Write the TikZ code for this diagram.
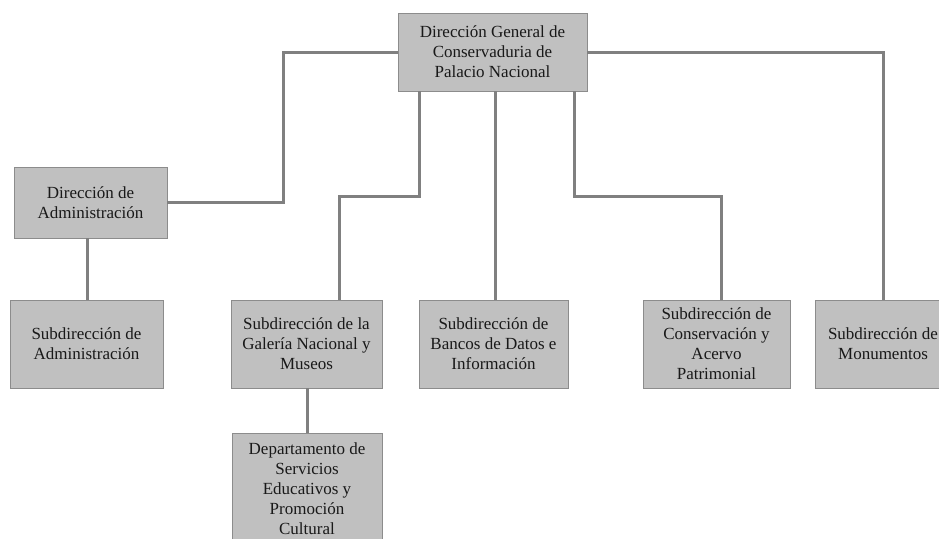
\documentclass[tikz,border=0pt]{standalone}
\usepackage{fontspec}
\setmainfont{Liberation Serif}
\usetikzlibrary{shadows}
\definecolor{boxfill}{RGB}{192,192,192}
\definecolor{boxdraw}{RGB}{140,140,140}
\definecolor{linecol}{RGB}{128,128,128}
\definecolor{txt}{RGB}{25,25,25}
\tikzset{
  orgbox/.style={rectangle, fill=boxfill, draw=boxdraw, line width=0.8pt,
    align=center, inner sep=2pt, text=txt,
    font=\fontsize{17}{20}\selectfont,
    drop shadow={shadow xshift=1pt, shadow yshift=-1.2pt, opacity=0.35}},
  conn/.style={draw=linecol, line width=3pt}
}
\begin{document}
\begin{tikzpicture}[x=1pt,y=-1pt]
\useasboundingbox (0,0) rectangle (939,538);
\clip (0,0) rectangle (939,538);
\coordinate (xa) at (283,0);
\coordinate (xg) at (419,0);
\coordinate (xgl) at (339,0);
\coordinate (xb) at (495,0);
\coordinate (xc) at (574,0);
\coordinate (xcr) at (721,0);
\coordinate (xm) at (883,0);
\coordinate (xs) at (87,0);
\coordinate (xd) at (307,0);
\coordinate (ymid) at (0,196);
\coordinate (yadm) at (0,202);

\node[orgbox, minimum width=189pt, minimum height=78pt] (top) at (492.5,52)
  {Dirección General de\\Conservaduria de\\Palacio Nacional};
\node[orgbox, minimum width=153pt, minimum height=71pt] (dadm) at (90.5,202.5)
  {Dirección de\\Administración};
\node[orgbox, minimum width=153pt, minimum height=88pt] (sadm) at (86.5,344)
  {Subdirección de\\Administración};
\node[orgbox, minimum width=151pt, minimum height=88pt] (gal) at (306.5,344)
  {Subdirección de la\\Galería Nacional y\\Museos};
\node[orgbox, minimum width=149pt, minimum height=88pt] (ban) at (493.5,344)
  {Subdirección de\\Bancos de Datos e\\Información};
\node[orgbox, minimum width=147pt, minimum height=88pt] (con) at (716.5,344)
  {Subdirección de\\Conservación y\\Acervo\\Patrimonial};
\node[orgbox, minimum width=136pt, minimum height=88pt] (mon) at (883,344)
  {Subdirección de\\Monumentos};
\node[orgbox, minimum width=150pt, minimum height=112pt] (dep) at (307,489)
  {Departamento de\\Servicios\\Educativos y\\Promoción\\Cultural};

\draw[conn] (top.west) -| (xa |- yadm) -- (dadm.east |- yadm);
\draw[conn] (top.east) -| (mon.north -| xm);
\draw[conn] (top.south -| xg) -- (xg |- ymid) -- (xgl |- ymid) -- (gal.north -| xgl);
\draw[conn] (top.south -| xb) -- (ban.north -| xb);
\draw[conn] (top.south -| xc) -- (xc |- ymid) -- (xcr |- ymid) -- (con.north -| xcr);
\draw[conn] (dadm.south -| xs) -- (sadm.north -| xs);
\draw[conn] (gal.south -| xd) -- (dep.north -| xd);
\end{tikzpicture}
\end{document}
